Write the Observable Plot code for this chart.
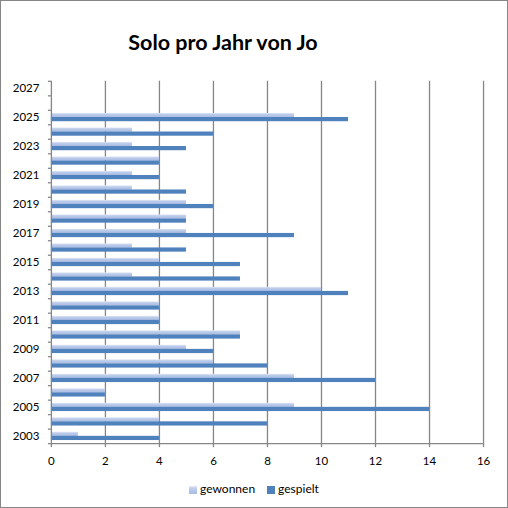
<!DOCTYPE html>
<html>
<head>
<meta charset="utf-8">
<script src="https://cdn.jsdelivr.net/npm/d3@7"></script>
<script src="https://cdn.jsdelivr.net/npm/@observablehq/plot@0.6"></script>
<style>
  html, body { margin: 0; padding: 0; background: #fff; }
  #chart { position: relative; width: 508px; height: 508px; box-sizing: border-box; border: 1px solid #868686; font-family: Lato, "Open Sans", sans-serif; }
  #title { position: absolute; left: 0; width: 444px; top: 28px; text-align: center; font-size: 21.5px; font-weight: bold; color: #000; }
  #plot { position: absolute; left: -1px; top: -1px; }
  #legend { position: absolute; top: 480px; left: 0; width: 506px; text-align: center; font-size: 12px; color: #000; }
  #legend span.item { display: inline-block; margin: 0 6px; }
  #legend span.sw { display: inline-block; width: 8px; height: 8px; margin-right: 3px; vertical-align: -1px; }
</style>
</head>
<body>
<div id="chart">
  <div id="title">Solo pro Jahr von Jo</div>
  <div id="plot"></div>
  <div id="legend"></div>
</div>
<script>
const years = [2003,2004,2005,2006,2007,2008,2009,2010,2011,2012,2013,2014,2015,2016,2017,2018,2019,2020,2021,2022,2023,2024,2025,2026,2027];
const gewonnen = [1,4,9,2,9,6,5,7,4,4,10,3,4,3,5,5,5,3,3,4,3,3,9,0,0];
const gespielt = [4,8,14,2,12,8,6,7,4,4,11,7,7,5,9,5,6,5,4,4,5,6,11,0,0];
const seriesNames = ["gewonnen", "gespielt"];
const xTicks = [0,2,4,6,8,10,12,14,16];
const yLabelYears = [2003,2005,2007,2009,2011,2013,2015,2017,2019,2021,2023,2025,2027];

const lightFill = "url(#lightGrad)";
const darkFill = "#4f81bd";
const gridColor = "#868686";

const data = years.map((y, i) => ({year: y, gewonnen: gewonnen[i], gespielt: gespielt[i]}));
const boundaries = [years[0] - 0.5, ...years.map(y => y + 0.5)];

function defs() {
  const svg = d3.create("svg:defs");
  const g = svg.append("linearGradient").attr("id", "lightGrad").attr("x1", 0).attr("y1", 0).attr("x2", 0).attr("y2", 1);
  g.append("stop").attr("offset", "0%").attr("stop-color", "#e4eaf6");
  g.append("stop").attr("offset", "35%").attr("stop-color", "#bccbea");
  g.append("stop").attr("offset", "100%").attr("stop-color", "#a9bce3");
  return svg.node();
}

const plot = Plot.plot({
  width: 508,
  height: 508,
  marginLeft: 51,
  marginRight: 24,
  marginTop: 81,
  marginBottom: 64,
  style: {fontFamily: "Lato, 'Open Sans', sans-serif", fontSize: "11.5px", color: "#000", background: "transparent", overflow: "visible"},
  x: {domain: [0, 16]},
  y: {domain: [years[0] - 0.5, years[years.length - 1] + 0.5]},
  marks: [
    defs,
    Plot.ruleX(xTicks.slice(1), {stroke: gridColor, strokeWidth: 1.3, strokeOpacity: 1}),
    Plot.rectX(data, {x: "gewonnen", y1: d => d.year - 0.5, y2: d => d.year + 0.5, fill: lightFill, insetTop: 3.1, insetBottom: 7.2}),
    Plot.rectX(data, {x: "gespielt", y1: d => d.year - 0.5, y2: d => d.year + 0.5, fill: darkFill, insetTop: 7.2, insetBottom: 3.1}),
    Plot.ruleX([0], {stroke: gridColor, strokeWidth: 1.3}),
    Plot.ruleY([years[0] - 0.5], {stroke: gridColor, strokeWidth: 1.3}),
    Plot.axisX({ticks: xTicks, tickSize: 4, tickPadding: 9, stroke: gridColor, strokeWidth: 1.3, tickFormat: d => String(d), color: "#000"}),
    Plot.axisY({ticks: boundaries, tickSize: 3, tickFormat: () => "", stroke: gridColor, strokeWidth: 1.3}),
    Plot.axisY({ticks: yLabelYears, tickSize: 0, tickPadding: 12, tickFormat: d => String(d), color: "#000"})
  ]
});
d3.select(plot).selectAll("text").attr("fill", "#000");
document.getElementById("plot").appendChild(plot);

const legend = document.getElementById("legend");
const fills = {gewonnen: "linear-gradient(#e4eaf6, #bccbea 35%, #a9bce3)", gespielt: darkFill};
seriesNames.forEach(name => {
  const item = document.createElement("span");
  item.className = "item";
  const sw = document.createElement("span");
  sw.className = "sw";
  sw.style.background = fills[name];
  item.appendChild(sw);
  item.appendChild(document.createTextNode(name));
  legend.appendChild(item);
});
</script>
</body>
</html>
